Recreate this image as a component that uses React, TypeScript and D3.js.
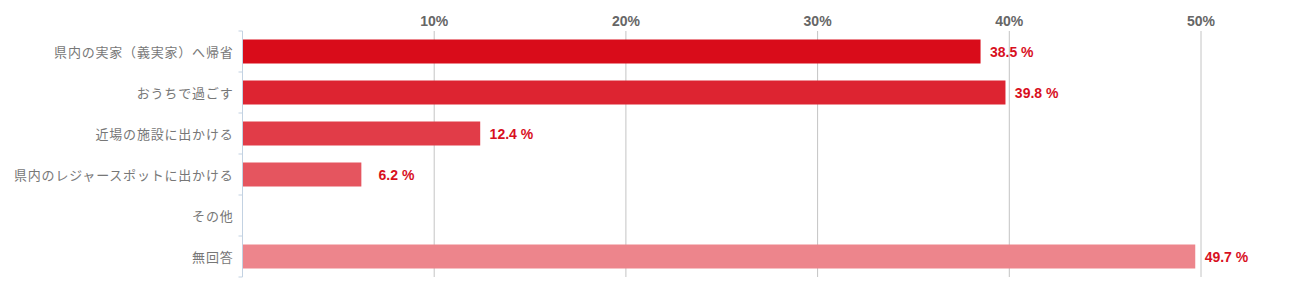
import React from "react";
import * as d3 from "d3";

// Survey categories and shares (%)
const categories = [
  "県内の実家（義実家）へ帰省",
  "おうちで過ごす",
  "近場の施設に出かける",
  "県内のレジャースポットに出かける",
  "その他",
  "無回答",
];
const values = [38.5, 39.8, 12.4, 6.2, 0, 49.7];
const barColors = ["#d90c1a", "#dd2431", "#e13c48", "#e5555f", "#e96d75", "#ed858c"];
const tickValues = [10, 20, 30, 40, 50];

const W = 1301;
const H = 293;
const left = 242.5;
const top = 31;
const bottom = 277;

export default function App() {
  const x = d3.scaleLinear().domain([0, 50]).range([left, left + 958.5]);
  const y = d3
    .scaleBand<string>()
    .domain(categories)
    .range([top, bottom])
    .paddingInner(17 / 41)
    .paddingOuter(8.5 / 41);
  const band = (bottom - top) / categories.length;
  const boundaries = d3.range(categories.length + 1).map((i) => top + i * band);

  return (
    <svg
      width={W}
      height={H}
      style={{ position: "absolute", left: 0, top: 0, background: "#fff" }}
    >
      {/* vertical gridlines and top tick labels */}
      {tickValues.map((t) => (
        <g key={t}>
          <line x1={x(t)} x2={x(t)} y1={top} y2={bottom} stroke="#c4c4c4" strokeWidth={1} />
          <text
            x={x(t)}
            y={26}
            textAnchor="middle"
            fontFamily="'Liberation Sans', Arial, sans-serif"
            fontWeight="bold"
            fontSize={14}
            fill="#666"
          >
            {t}%
          </text>
        </g>
      ))}

      {/* bars */}
      {categories.map((c, i) => (
        <rect
          key={c}
          x={x(0)}
          y={y(c)}
          width={x(values[i]) - x(0)}
          height={y.bandwidth()}
          fill={barColors[i]}
        />
      ))}

      {/* category axis */}
      <line x1={left} x2={left} y1={top} y2={bottom} stroke="#c3d2e2" strokeWidth={1} />
      {boundaries.map((b, i) => (
        <line key={i} x1={left - 4} x2={left} y1={b} y2={b} stroke="#c3d2e2" strokeWidth={1} />
      ))}
      {categories.map((c) => (
        <text
          key={c}
          x={left - 9}
          y={(y(c) ?? 0) + y.bandwidth() / 2}
          dominantBaseline="central"
          textAnchor="end"
          fontFamily="'Noto Sans CJK JP', sans-serif"
          fontSize={13}
          letterSpacing={0.8}
          fill="#777"
        >
          {c}
        </text>
      ))}

      {/* value labels */}
      {categories.map((c, i) =>
        values[i] > 0 ? (
          <text
            key={c}
            x={x(values[i]) + 53}
            y={(y(c) ?? 0) + y.bandwidth() / 2}
            dominantBaseline="central"
            textAnchor="end"
            fontFamily="'Liberation Sans', Arial, sans-serif"
            fontWeight="bold"
            fontSize={14}
            fill="#d8101e"
          >
            {values[i].toFixed(1)} %
          </text>
        ) : null
      )}
    </svg>
  );
}
